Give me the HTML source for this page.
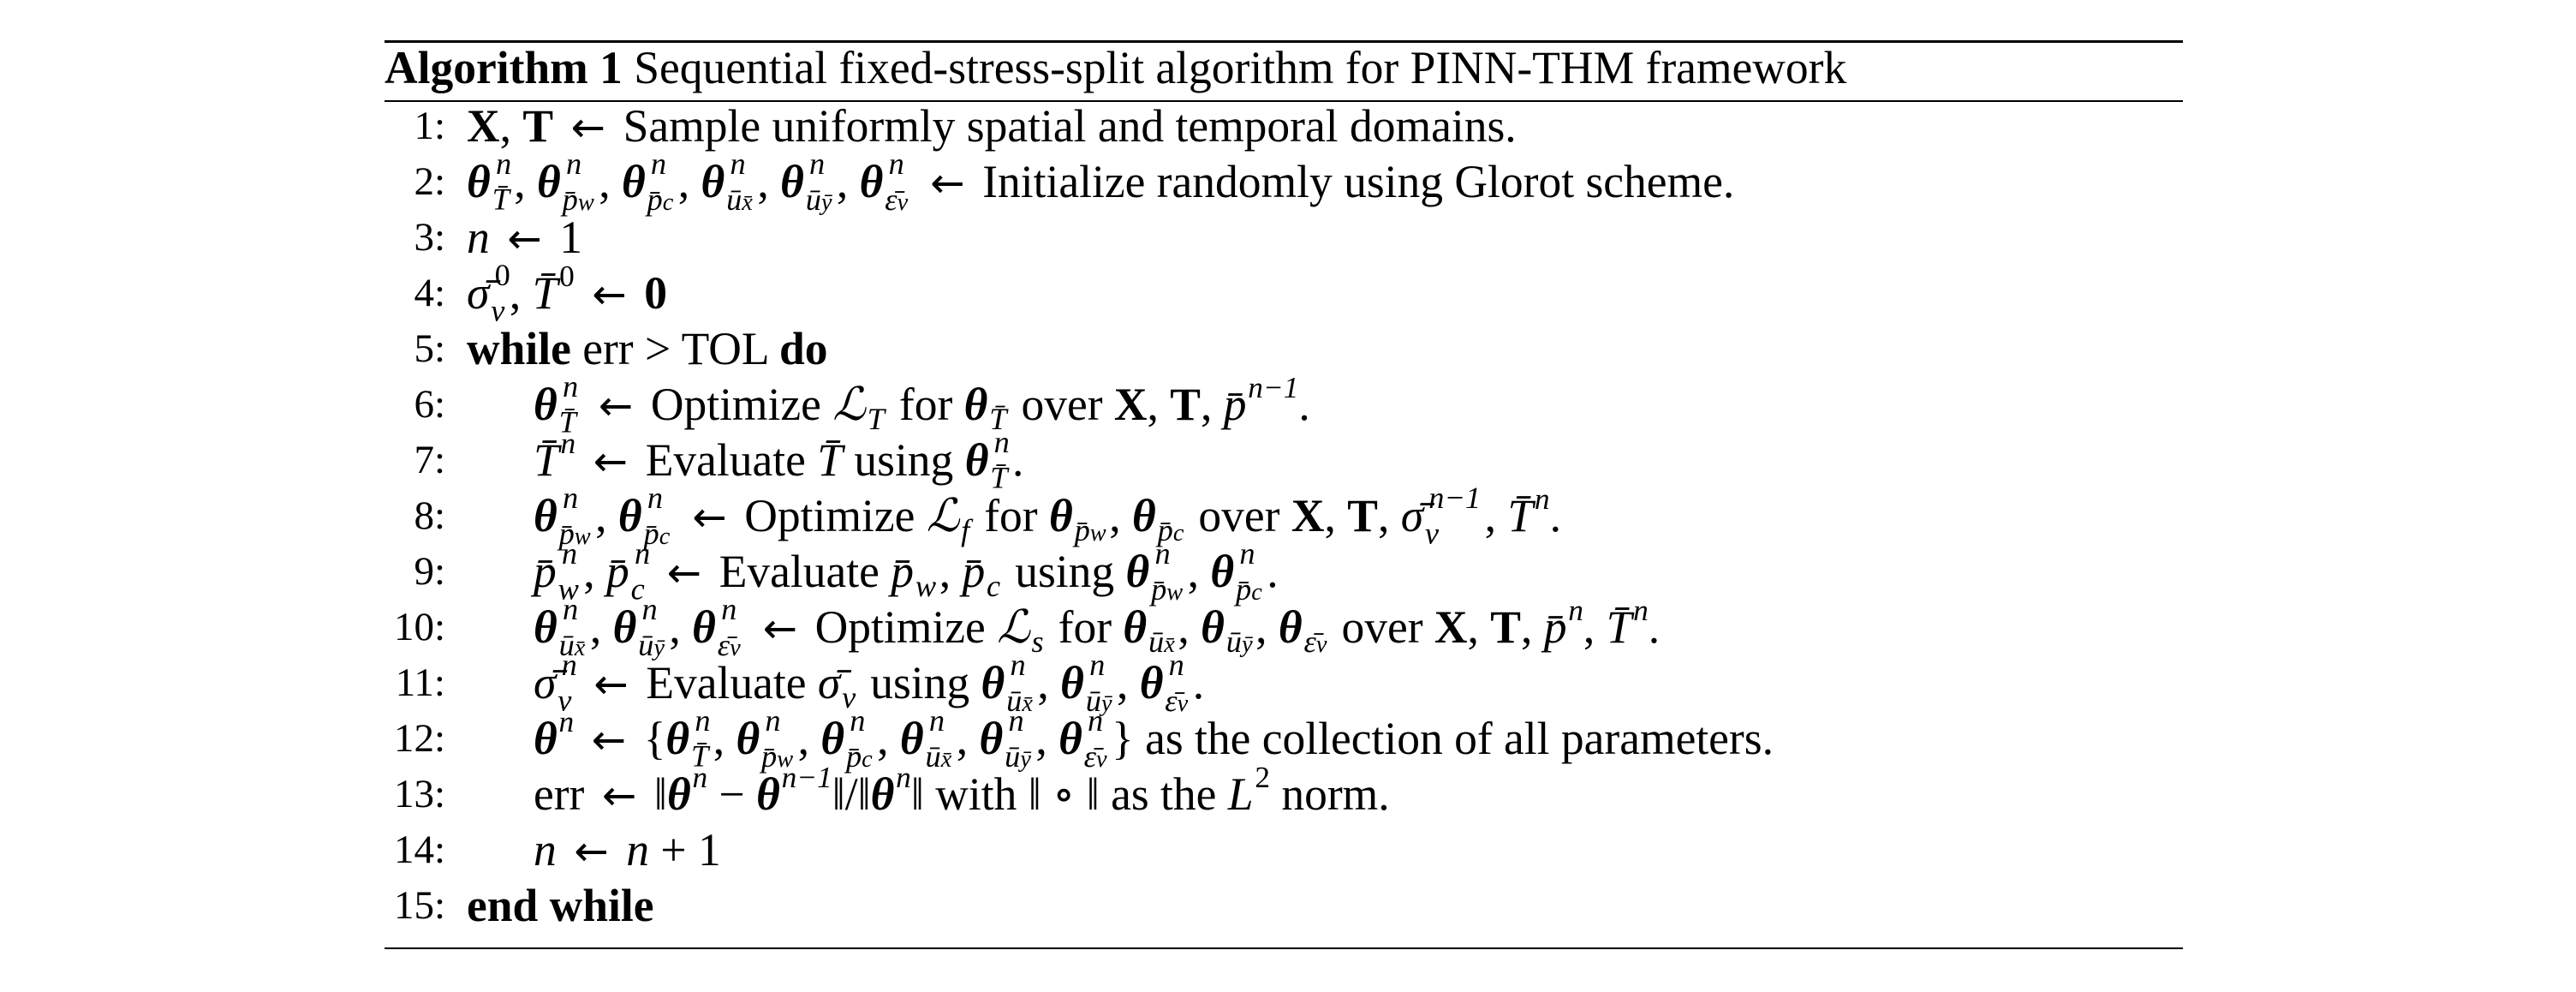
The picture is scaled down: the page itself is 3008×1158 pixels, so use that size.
<!DOCTYPE html>
<html><head><meta charset="utf-8">
<style>
html,body{margin:0;padding:0;background:#fff;}
body{width:3008px;height:1158px;position:relative;overflow:hidden;font-family:"Liberation Serif","DejaVu Serif",serif;color:#000;}
.rule{position:absolute;left:449px;width:2100px;background:#000;}
.ln{position:absolute;font-size:53.5px;line-height:52px;white-space:nowrap;}
.num{position:absolute;font-size:47px;line-height:52px;width:80px;text-align:right;left:440px;}
.c{left:545px;} .i{left:623px;}
b{font-weight:bold;}
.t{font-weight:bold;font-style:italic;}
em{font-style:italic;}
.ar{font-family:"DejaVu Sans",sans-serif;font-size:0.9em;margin:0 0.15em;}
.ss{position:relative;font-size:0.68em;line-height:0;font-style:italic;margin-right:0.15em;margin-left:0.05em;}
.ss>.d{vertical-align:-0.4em;line-height:0;}
.ss>.u{position:absolute;left:0.12em;top:-0.7em;line-height:1em;white-space:nowrap;}
.sp{font-size:0.66em;vertical-align:0.75em;line-height:0;font-style:italic;margin-left:0.05em;}
.sb{font-size:0.68em;vertical-align:-0.3em;line-height:0;font-style:italic;margin:0 0.1em 0 0.05em;}
.s2{font-size:0.78em;font-style:italic;}
</style></head><body>
<div class="rule" style="top:47px;height:3px"></div>
<div class="rule" style="top:117px;height:2px"></div>
<div class="rule" style="top:1106px;height:2px"></div>

<div class="ln" style="left:449px;top:53px"><b>Algorithm 1</b> Sequential fixed-stress-split algorithm for PINN-THM framework</div>

<div class="num" style="top:121px">1:</div>
<div class="ln c" style="top:121px"><b>X</b>, <b>T</b> <span class="ar">←</span> Sample uniformly spatial and temporal domains.</div>

<div class="num" style="top:186px">2:</div>
<div class="ln c" style="top:186px"><span class="t">θ</span><span class="ss"><span class="u">n</span><span class="d">T̄</span></span>, <span class="t">θ</span><span class="ss"><span class="u">n</span><span class="d">p̄<span class="s2">w</span></span></span>, <span class="t">θ</span><span class="ss"><span class="u">n</span><span class="d">p̄<span class="s2">c</span></span></span>, <span class="t">θ</span><span class="ss"><span class="u">n</span><span class="d">ū<span class="s2">x̄</span></span></span>, <span class="t">θ</span><span class="ss"><span class="u">n</span><span class="d">ū<span class="s2">ȳ</span></span></span>, <span class="t">θ</span><span class="ss"><span class="u">n</span><span class="d">ε̄<span class="s2">v</span></span></span> <span class="ar">←</span> Initialize randomly using Glorot scheme.</div>

<div class="num" style="top:251px">3:</div>
<div class="ln c" style="top:251px"><em>n</em> <span class="ar">←</span> 1</div>

<div class="num" style="top:316px">4:</div>
<div class="ln c" style="top:316px"><em>σ̄</em><span class="ss"><span class="u" style="font-style:normal">0</span><span class="d">v</span></span>, <em>T̄</em><span class="sp" style="font-style:normal">0</span> <span class="ar">←</span> <b>0</b></div>

<div class="num" style="top:381px">5:</div>
<div class="ln c" style="top:381px"><b>while</b> err &gt; TOL <b>do</b></div>

<div class="num" style="top:446px">6:</div>
<div class="ln i" style="top:446px"><span class="t">θ</span><span class="ss"><span class="u">n</span><span class="d">T̄</span></span> <span class="ar">←</span> Optimize <em>ℒ</em><span class="sb">T</span> for <span class="t">θ</span><span class="sb">T̄</span> over <b>X</b>, <b>T</b>, <em>p̄</em><span class="sp">n−1</span>.</div>

<div class="num" style="top:511px">7:</div>
<div class="ln i" style="top:511px"><em>T̄</em><span class="sp">n</span> <span class="ar">←</span> Evaluate <em>T̄</em> using <span class="t">θ</span><span class="ss"><span class="u">n</span><span class="d">T̄</span></span>.</div>

<div class="num" style="top:576px">8:</div>
<div class="ln i" style="top:576px"><span class="t">θ</span><span class="ss"><span class="u">n</span><span class="d">p̄<span class="s2">w</span></span></span>, <span class="t">θ</span><span class="ss"><span class="u">n</span><span class="d">p̄<span class="s2">c</span></span></span> <span class="ar">←</span> Optimize <em>ℒ</em><span class="sb">f</span> for <span class="t">θ</span><span class="sb">p̄<span class="s2">w</span></span>, <span class="t">θ</span><span class="sb">p̄<span class="s2">c</span></span> over <b>X</b>, <b>T</b>, <em>σ̄</em><span class="ss"><span class="u">n−1</span><span class="d">v</span></span><span style="display:inline-block;width:0.9em"></span>, <em>T̄</em><span class="sp">n</span>.</div>

<div class="num" style="top:641px">9:</div>
<div class="ln i" style="top:641px"><em>p̄</em><span class="ss"><span class="u">n</span><span class="d">w</span></span>, <em>p̄</em><span class="ss"><span class="u">n</span><span class="d">c</span></span> <span class="ar">←</span> Evaluate <em>p̄</em><span class="sb">w</span>, <em>p̄</em><span class="sb">c</span> using <span class="t">θ</span><span class="ss"><span class="u">n</span><span class="d">p̄<span class="s2">w</span></span></span>, <span class="t">θ</span><span class="ss"><span class="u">n</span><span class="d">p̄<span class="s2">c</span></span></span>.</div>

<div class="num" style="top:706px">10:</div>
<div class="ln i" style="top:706px"><span class="t">θ</span><span class="ss"><span class="u">n</span><span class="d">ū<span class="s2">x̄</span></span></span>, <span class="t">θ</span><span class="ss"><span class="u">n</span><span class="d">ū<span class="s2">ȳ</span></span></span>, <span class="t">θ</span><span class="ss"><span class="u">n</span><span class="d">ε̄<span class="s2">v</span></span></span> <span class="ar">←</span> Optimize <em>ℒ</em><span class="sb">s</span> for <span class="t">θ</span><span class="sb">ū<span class="s2">x̄</span></span>, <span class="t">θ</span><span class="sb">ū<span class="s2">ȳ</span></span>, <span class="t">θ</span><span class="sb">ε̄<span class="s2">v</span></span> over <b>X</b>, <b>T</b>, <em>p̄</em><span class="sp">n</span>, <em>T̄</em><span class="sp">n</span>.</div>

<div class="num" style="top:771px">11:</div>
<div class="ln i" style="top:771px"><em>σ̄</em><span class="ss"><span class="u">n</span><span class="d">v</span></span> <span class="ar">←</span> Evaluate <em>σ̄</em><span class="sb">v</span> using <span class="t">θ</span><span class="ss"><span class="u">n</span><span class="d">ū<span class="s2">x̄</span></span></span>, <span class="t">θ</span><span class="ss"><span class="u">n</span><span class="d">ū<span class="s2">ȳ</span></span></span>, <span class="t">θ</span><span class="ss"><span class="u">n</span><span class="d">ε̄<span class="s2">v</span></span></span>.</div>

<div class="num" style="top:836px">12:</div>
<div class="ln i" style="top:836px"><span class="t">θ</span><span class="sp">n</span> <span class="ar">←</span> {<span class="t">θ</span><span class="ss"><span class="u">n</span><span class="d">T̄</span></span>, <span class="t">θ</span><span class="ss"><span class="u">n</span><span class="d">p̄<span class="s2">w</span></span></span>, <span class="t">θ</span><span class="ss"><span class="u">n</span><span class="d">p̄<span class="s2">c</span></span></span>, <span class="t">θ</span><span class="ss"><span class="u">n</span><span class="d">ū<span class="s2">x̄</span></span></span>, <span class="t">θ</span><span class="ss"><span class="u">n</span><span class="d">ū<span class="s2">ȳ</span></span></span>, <span class="t">θ</span><span class="ss"><span class="u">n</span><span class="d">ε̄<span class="s2">v</span></span></span>} as the collection of all parameters.</div>

<div class="num" style="top:901px">13:</div>
<div class="ln i" style="top:901px">err <span class="ar">←</span> ‖<span class="t">θ</span><span class="sp">n</span> − <span class="t">θ</span><span class="sp">n−1</span>‖/‖<span class="t">θ</span><span class="sp">n</span>‖ with ‖ ∘ ‖ as the <em>L</em><span class="sp" style="font-style:normal">2</span> norm.</div>

<div class="num" style="top:966px">14:</div>
<div class="ln i" style="top:966px"><em>n</em> <span class="ar">←</span> <em>n</em> + 1</div>

<div class="num" style="top:1031px">15:</div>
<div class="ln c" style="top:1031px"><b>end while</b></div>
</body></html>
